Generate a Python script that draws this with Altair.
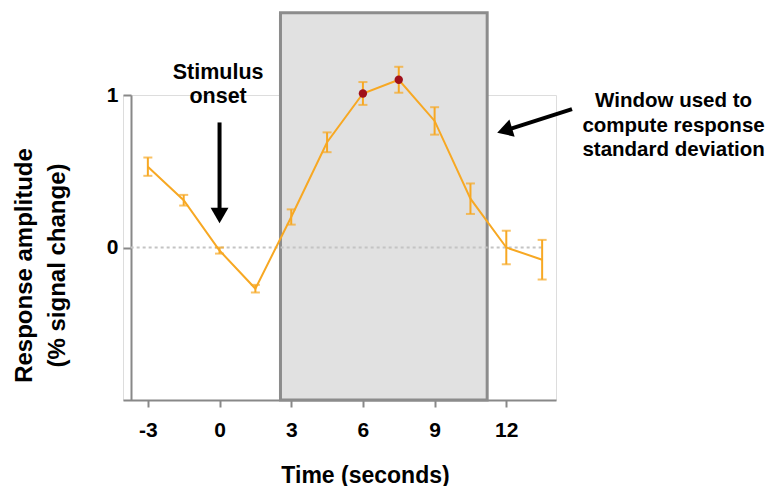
import altair as alt
import pandas as pd

# ---- data ----
time_s = [-3, -1.5, 0, 1.5, 3, 4.5, 6, 7.5, 9, 10.5, 12, 13.5]
mean_resp = [0.53, 0.31, -0.02, -0.27, 0.20, 0.69, 1.01, 1.10, 0.83, 0.32, 0.00, -0.08]
err_resp = [0.06, 0.035, 0.02, 0.025, 0.05, 0.065, 0.075, 0.085, 0.09, 0.10, 0.11, 0.13]
peak_times = [6, 7.5]
peak_values = [1.01, 1.10]

window_start, window_end = 2.55, 11.2
window_bottom, window_top = -1.0, 1.54

x_ticks = [-3, 0, 3, 6, 9, 12]
y_ticks = [0, 1]

ORANGE = "#f7a823"
FONT = "Liberation Sans"

df = pd.DataFrame({"t": time_s, "m": mean_resp, "e": err_resp})
df["lo"] = df["m"] - df["e"]
df["hi"] = df["m"] + df["e"]
peaks = pd.DataFrame({"t": peak_times, "m": peak_values})
win = pd.DataFrame({"x": [window_start], "x2": [window_end], "y": [window_bottom], "y2": [window_top]})
zero = pd.DataFrame({"x": [-3.72], "x2": [13.5], "y": [0.0]})

# annotations
arrow_shafts = pd.DataFrame({"x": [0.0, 14.75], "y": [0.82, 0.907], "x2": [0.0, 12.2], "y2": [0.24, 0.78]})
arrow_heads = pd.DataFrame({"x": [0.0, 11.93], "y": [0.21, 0.768], "ang": [180, 253]})
notes = pd.DataFrame({
    "x": [-0.06, -0.06, 19.0, 19.0, 19.0],
    "y": [1.144, 0.987, 0.96, 0.797, 0.639],
    "txt": ["Stimulus", "onset", "Window used to", "compute response", "standard deviation"],
})

xs = alt.Scale(domain=[-4.04, 14.08], nice=False, zero=False)
ys = alt.Scale(domain=[-1, 1], nice=False, zero=False)

x_axis = alt.Axis(values=x_ticks, title="Time (seconds)", labelFontSize=21, labelFontWeight="bold",
                  labelFont=FONT, labelColor="black", tickSize=7, tickColor="#888", tickWidth=2,
                  domainColor="#888", domainWidth=2, labelPadding=12, grid=False,
                  labelExpr="'' + datum.value",
                  titleFont=FONT, titleFontSize=23, titleFontWeight="bold", titleColor="black",
                  titleX=242, titleY=64, titleBaseline="top", titleAnchor="start", titleAlign="center")
y_axis = alt.Axis(values=y_ticks, title=["Response amplitude", "(% signal change)"], labelFontSize=21,
                  labelFontWeight="bold", labelFont=FONT, labelColor="black", tickSize=8, tickColor="#888",
                  tickWidth=2, domainColor="#888", domainWidth=2, labelPadding=5, grid=False, offset=-8,
                  labelExpr="'' + datum.value",
                  titleFont=FONT, titleFontSize=24, titleFontWeight="bold", titleColor="black",
                  titleX=-95, titleY=170, titleAngle=-90, titleBaseline="bottom", titleAlign="center",
                  titleAnchor="start", titleLineHeight=33)

box = alt.Chart(win).mark_rect(fill="#e1e1e1", stroke="#8c8c8c", strokeWidth=3).encode(
    x=alt.X("x:Q", scale=xs, axis=x_axis), x2="x2", y=alt.Y("y:Q", scale=ys, axis=y_axis), y2="y2")

zline = alt.Chart(zero).mark_rule(color="#c4c4c4", strokeWidth=2, strokeDash=[3, 3]).encode(
    x=alt.X("x:Q", scale=xs), x2="x2", y=alt.Y("y:Q", scale=ys))

ebars = alt.Chart(df).mark_rule(color=ORANGE, strokeWidth=2).encode(
    x=alt.X("t:Q", scale=xs), y=alt.Y("lo:Q", scale=ys), y2="hi")
cap_lo = alt.Chart(df).mark_tick(color=ORANGE, orient="horizontal", size=9, thickness=2).encode(
    x=alt.X("t:Q", scale=xs), y=alt.Y("lo:Q", scale=ys))
cap_hi = alt.Chart(df).mark_tick(color=ORANGE, orient="horizontal", size=9, thickness=2).encode(
    x=alt.X("t:Q", scale=xs), y=alt.Y("hi:Q", scale=ys))

line = alt.Chart(df).mark_line(color=ORANGE, strokeWidth=2).encode(
    x=alt.X("t:Q", scale=xs), y=alt.Y("m:Q", scale=ys))

pts = alt.Chart(peaks).mark_point(filled=True, color="#a0101a", size=70, opacity=1).encode(
    x=alt.X("t:Q", scale=xs), y=alt.Y("m:Q", scale=ys))

shafts = alt.Chart(arrow_shafts).mark_rule(color="black", strokeWidth=4).encode(
    x=alt.X("x:Q", scale=xs), y=alt.Y("y:Q", scale=ys), x2="x2", y2="y2")
heads = alt.Chart(arrow_heads).mark_point(shape="triangle-up", filled=True, color="black", size=320,
                                          opacity=1).encode(
    x=alt.X("x:Q", scale=xs), y=alt.Y("y:Q", scale=ys), angle=alt.Angle("ang:Q", scale=None))

stim_text = alt.Chart(notes.iloc[:2]).mark_text(font=FONT, fontSize=21.5, fontWeight="bold", color="black",
                                                align="center", baseline="middle").encode(
    x=alt.X("x:Q", scale=xs), y=alt.Y("y:Q", scale=ys), text="txt:N")
win_text = alt.Chart(notes.iloc[2:]).mark_text(font=FONT, fontSize=20.5, fontWeight="bold", color="black",
                                               align="center", baseline="middle").encode(
    x=alt.X("x:Q", scale=xs), y=alt.Y("y:Q", scale=ys), text="txt:N")

chart = alt.layer(box, zline, ebars, cap_lo, cap_hi, line, pts, shafts, heads, stim_text, win_text).properties(
    width=433, height=305, autosize="none",
    padding={"left": 115, "top": 87, "right": 213, "bottom": 86},
).configure_view(stroke=None).configure(background="white")

chart.save("out.html", embed_options={"renderer": "svg", "actions": False})
